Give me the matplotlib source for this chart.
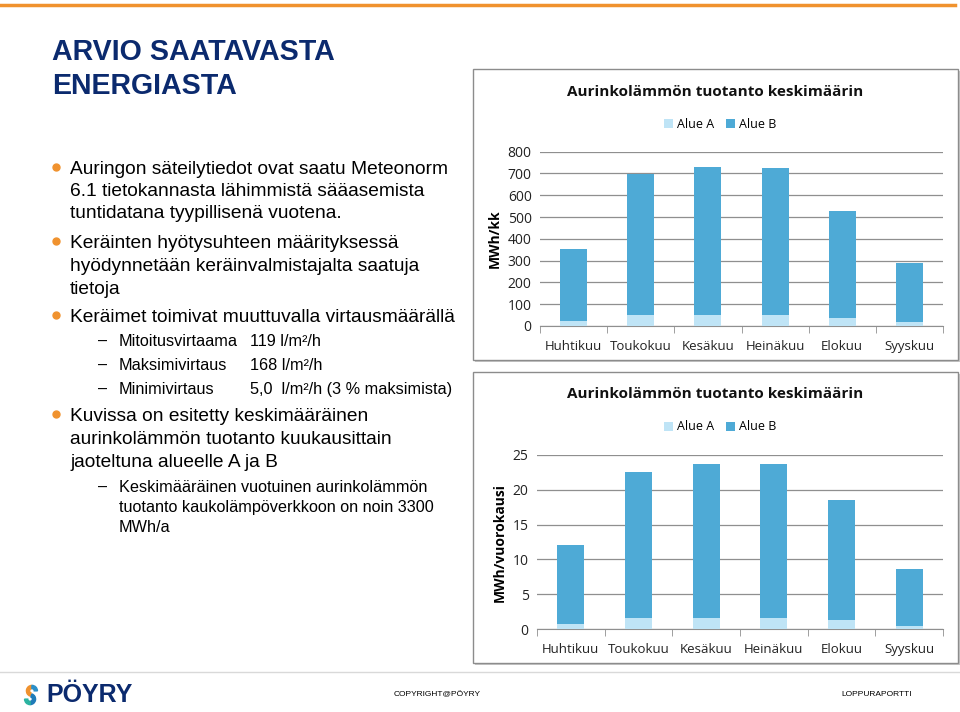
import numpy as np
import matplotlib.pyplot as plt
from matplotlib.patches import Rectangle, Wedge

### data
months = ['Huhtikuu', 'Toukokuu', 'Kesäkuu', 'Heinäkuu', 'Elokuu', 'Syyskuu']
series = ['Alue A', 'Alue B']

# MWh per month
kk_a = [23, 49, 50, 50, 35, 20]
kk_b = [332, 648, 681, 675, 492, 269]
kk_ticks = [0, 100, 200, 300, 400, 500, 600, 700, 800]

# MWh per day
vrk_a = [0.72, 1.57, 1.67, 1.57, 1.29, 0.52]
vrk_b = [11.40, 21.00, 21.99, 22.09, 17.17, 8.16]
vrk_ticks = [0, 5, 10, 15, 20, 25]

chart_title = 'Aurinkolämmön tuotanto keskimäärin'

col_a = '#bfe4f6'
col_b = '#4eaad6'
navy = '#0b2a6e'
orange = '#f0922e'

W, H = 960, 712
fig = plt.figure(figsize=(9.6, 7.12), dpi=100)
fig.patch.set_facecolor('white')


def fx(x):
    return x / W


def fy(y):
    return 1 - y / H


### slide decoration
fig.add_artist(plt.Line2D([0, fx(955)], [fy(5), fy(5)], color=orange, lw=2.5))
fig.add_artist(plt.Line2D([0, 1], [fy(672), fy(672)], color='#d9d9d9', lw=1))

for y, s in [(53, 'ARVIO SAATAVASTA'), (87, 'ENERGIASTA')]:
    fig.text(fx(52), fy(y + 7), s, color=navy, fontsize=20.6, fontweight='bold',
             family='Liberation Sans', va='baseline', ha='left')

txt = dict(family='Liberation Sans', color='black', va='baseline', ha='left')
main_fs = 13.8
sub_fs = 11.7

bullets = [
    (168, 'Auringon säteilytiedot ovat saatu Meteonorm'),
    (242, 'Keräinten hyötysuhteen määrityksessä'),
    (316, 'Keräimet toimivat muuttuvalla virtausmäärällä'),
    (415, 'Kuvissa on esitetty keskimääräinen'),
]
plain = [
    (190, '6.1 tietokannasta lähimmistä sääasemista'),
    (212, 'tuntidatana tyypillisenä vuotena.'),
    (265, 'hyödynnetään keräinvalmistajalta saatuja'),
    (288, 'tietoja'),
    (438, 'aurinkolämmön tuotanto kuukausittain'),
    (461, 'jaoteltuna alueelle A ja B'),
]
for y, s in bullets:
    fig.text(fx(70), fy(y + 6), s, fontsize=main_fs, **txt)
    fig.add_artist(plt.Line2D([fx(56)], [fy(y - 1)], marker='o', ms=5, color=orange, mec=orange))
for y, s in plain:
    fig.text(fx(70), fy(y + 6), s, fontsize=main_fs, **txt)

subs = [
    (341, 'Mitoitusvirtaama', '119 l/m²/h'),
    (365, 'Maksimivirtaus', '168 l/m²/h'),
    (389, 'Minimivirtaus', '5,0  l/m²/h (3 % maksimista)'),
]
for y, a, b in subs:
    fig.text(fx(98), fy(y + 5), '–', fontsize=sub_fs, **txt)
    fig.text(fx(119), fy(y + 5), a, fontsize=sub_fs, **txt)
    fig.text(fx(250), fy(y + 5), b, fontsize=sub_fs, **txt)

fig.text(fx(98), fy(492), '–', fontsize=sub_fs, **txt)
for y, s in [(487, 'Keskimääräinen vuotuinen aurinkolämmön'),
             (507, 'tuotanto kaukolämpöverkkoon on noin 3300'),
             (527, 'MWh/a')]:
    fig.text(fx(119), fy(y + 5), s, fontsize=sub_fs, **txt)

### footer
fig.text(fx(437), fy(695), 'COPYRIGHT@PÖYRY', fontsize=6, family='Liberation Sans', ha='center', va='center')
fig.text(fx(877), fy(695), 'LOPPURAPORTTI', fontsize=6, family='Liberation Sans', ha='center', va='center')
fig.text(fx(46), fy(695), 'PÖYRY', fontsize=18, fontweight='bold', family='Liberation Sans',
         color=navy, ha='left', va='center')
lax = fig.add_axes([fx(18), fy(706), fx(26), 22 / H])
lax.set_aspect('equal')
lax.set_xlim(-1.2, 1.2)
lax.set_ylim(-1.2, 1.2)
lax.axis('off')
lax.add_patch(Wedge((0.1, 0.45), 0.6, 90, 250, width=0.35, color=orange))
lax.add_patch(Wedge((0.1, 0.45), 0.6, 0, 90, width=0.35, color='#2a8fc9'))
lax.add_patch(Wedge((-0.1, -0.45), 0.6, 270, 70, width=0.35, color='#1f7bb8'))
lax.add_patch(Wedge((-0.1, -0.45), 0.6, 180, 270, width=0.35, color='#2bb3a0'))


### charts
def chart(box, axpos, a_vals, b_vals, ticks, ylabel, title_y, legend_y, xlab_pad):
    x0, y0, x1, y1 = box
    fig.add_artist(Rectangle((fx(x0) + 0.002, fy(y1) - 0.003), fx(x1 - x0), (y1 - y0) / H,
                             transform=fig.transFigure, facecolor='#c8c8c8', edgecolor='none', zorder=-2))
    fig.add_artist(Rectangle((fx(x0), fy(y1)), fx(x1 - x0), (y1 - y0) / H,
                             transform=fig.transFigure, facecolor='white', edgecolor='#8c8c8c', lw=1, zorder=-1))
    ax = fig.add_axes(axpos)
    ax.set_zorder(2)
    ax.set_facecolor('none')
    x = np.arange(len(months))
    ba = ax.bar(x, a_vals, width=0.4, color=col_a, label=series[0], zorder=3)
    bb = ax.bar(x, b_vals, width=0.4, bottom=a_vals, color=col_b, label=series[1], zorder=3)
    ax.set_xlim(-0.5, len(months) - 0.5)
    ax.set_ylim(ticks[0], ticks[-1])
    ax.set_yticks(ticks)
    ax.yaxis.grid(True, color='#8f8f8f', lw=0.9)
    ax.set_axisbelow(True)
    for s in ['top', 'right', 'left']:
        ax.spines[s].set_visible(False)
    ax.spines['bottom'].set_color('#8f8f8f')
    ax.tick_params(axis='y', length=0, labelsize=10, pad=6, labelcolor='#222222')
    ax.set_xticks(x)
    ax.set_xticklabels(months, family='Open Sans', fontsize=9.5, color='#222222')
    ax.set_xticks(np.arange(len(months) + 1) - 0.5, minor=True)
    ax.tick_params(axis='x', which='major', length=0, pad=xlab_pad)
    ax.tick_params(axis='x', which='minor', length=5, color='#8f8f8f')
    for lab in ax.get_yticklabels():
        lab.set_family('Open Sans')
    ax.set_ylabel(ylabel, family='Open Sans', fontweight='bold', fontsize=10, labelpad=4)
    fig.text(fx(715), fy(title_y), chart_title, family='Open Sans', fontweight='bold',
             fontsize=11, ha='center', va='center', color='#111111')
    fig.legend(handles=[ba, bb], loc='center', bbox_to_anchor=(fx(720), fy(legend_y)), ncol=2,
               frameon=False, handlelength=0.7, handleheight=0.7, handletextpad=0.3,
               columnspacing=1.0, prop={'family': 'Open Sans', 'size': 9})
    return ax


chart((473, 69, 958, 360), [fx(540), fy(326), fx(403), 174.3 / H],
      kk_a, kk_b, kk_ticks, 'MWh/kk', 92, 124, 10)
chart((473, 372, 958, 663), [fx(537), fy(629.3), fx(406), 174.6 / H],
      vrk_a, vrk_b, vrk_ticks, 'MWh/vuorokausi', 394, 427, 10)

fig.savefig('out.png', dpi=100)
